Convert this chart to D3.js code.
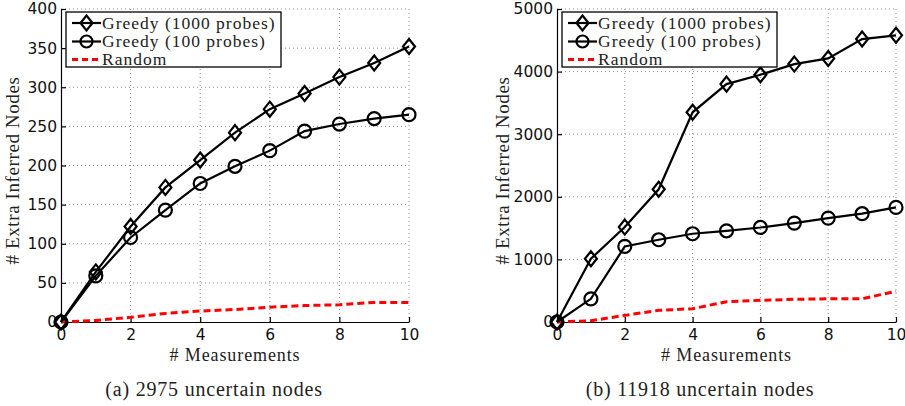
<!DOCTYPE html>
<html lang="en">
<head>
<meta charset="utf-8">
<style>
  body { margin: 0; background: white; }
  svg { background: white; display: block; }
  .tick-label { font-family: 'DejaVu Sans', sans-serif; font-size: 15.5px; fill: #111; }
  .serif { font-family: 'Liberation Serif', serif; fill: #222; }
  .grid line { stroke: #8f8f8f; stroke-width: 1; stroke-dasharray: 1,3; }
  .axis-line { stroke: black; stroke-width: 1.2; }
  .series { fill: none; stroke: black; stroke-width: 2.2; }
  .random { fill: none; stroke: red; stroke-width: 3; stroke-dasharray: 7,4; }
  .marker { fill: none; stroke: black; stroke-width: 2.2; }
</style>
</head>
<body>
<svg width="905" height="406"></svg>
<script src="https://cdn.jsdelivr.net/npm/d3@7"></script>
<script>
// values
const measurements = [0, 1, 2, 3, 4, 5, 6, 7, 8, 9, 10]
const xTicks = [0, 2, 4, 6, 8, 10]

// panel (a): 2975 uncertain nodes
const aGreedy1000 = [0, 64, 122, 172, 207, 242, 272, 292, 313, 331, 352]
const aGreedy100  = [0, 59, 108, 143, 177, 199, 219, 244, 253, 260, 265]
const aRandom     = [0, 2, 6, 11, 14, 16, 19, 21, 22, 25, 25]
const aYTicks = [0, 50, 100, 150, 200, 250, 300, 350, 400]

// panel (b): 11918 uncertain nodes
const bGreedy1000 = [0, 1010, 1516, 2120, 3350, 3800, 3950, 4120, 4210, 4520, 4580]
const bGreedy100  = [0, 370, 1207, 1314, 1410, 1457, 1510, 1580, 1660, 1730, 1830]
const bRandom     = [0, 20, 106, 186, 213, 324, 346, 362, 372, 372, 489]
const bYTicks = [0, 1000, 2000, 3000, 4000, 5000]

const legendLabels = ["Greedy (1000 probes)", "Greedy (100 probes)", "Random"]

const svg = d3.select("svg")

function drawPanel(p) {
  const g = svg.append("g")
  const x = d3.scaleLinear().domain([0, 10]).range([p.left, p.right])
  const y = d3.scaleLinear().domain([0, p.yMax]).range([322, 9])

  // dotted grid, also at the top and right edges (no box)
  const grid = g.append("g").attr("class", "grid")
  grid.selectAll("line.gx").data(xTicks.slice(1)).join("line")
    .attr("class", "gx")
    .attr("x1", d => x(d)).attr("x2", d => x(d)).attr("y1", y(0)).attr("y2", y(p.yMax))
  grid.selectAll("line.gy").data(p.yTicks.slice(1)).join("line")
    .attr("class", "gy")
    .attr("x1", x(0)).attr("x2", x(10)).attr("y1", d => y(d)).attr("y2", d => y(d))

  // axes with inward ticks
  const xAxis = d3.axisBottom(x).tickValues(xTicks).tickSizeInner(-5).tickSizeOuter(0).tickPadding(0)
  const yAxis = d3.axisLeft(y).tickValues(p.yTicks).tickSizeInner(-5).tickSizeOuter(0)
    .tickPadding(4).tickFormat(d3.format("d"))
  const gx = g.append("g").attr("transform", `translate(0,${y(0)})`).call(xAxis)
  const gy = g.append("g").attr("transform", `translate(${x(0)},0)`).call(yAxis)
  ;[gx, gy].forEach(a => {
    a.select(".domain").attr("class", "axis-line")
    a.selectAll(".tick line").attr("stroke-width", 1.2)
    a.selectAll("text").attr("class", "tick-label").attr("fill", null)
  })
  gx.selectAll("text").attr("y", 18).attr("dy", 0)

  const line = d3.line().x((d, i) => x(measurements[i])).y(d => y(d))

  g.append("path").attr("class", "random").attr("d", line(p.random))
  g.append("path").attr("class", "series").attr("d", line(p.g100))
  g.append("path").attr("class", "series").attr("d", line(p.g1000))

  g.selectAll("circle.m").data(p.g100).join("circle")
    .attr("class", "marker").attr("cx", (d, i) => x(measurements[i])).attr("cy", d => y(d)).attr("r", 6.5)
  const diamond = "M0,-7.5L6,0L0,7.5L-6,0Z"
  g.selectAll("path.dm").data(p.g1000).join("path")
    .attr("class", "marker dm").attr("d", diamond)
    .attr("transform", (d, i) => `translate(${x(measurements[i])},${y(d)})`)

  // legend
  const lx = x(0) + 5, ly = 12
  const leg = g.append("g")
  leg.append("rect").attr("x", lx).attr("y", ly).attr("width", 215).attr("height", 55)
    .attr("fill", "white").attr("stroke", "black").attr("stroke-width", 1.3)
  const rows = [ly + 11, ly + 29.5, ly + 47.5]
  legendLabels.forEach((lab, i) => {
    const cy = rows[i]
    leg.append("line").attr("x1", lx + 6).attr("x2", lx + 35).attr("y1", cy).attr("y2", cy)
      .attr("class", i === 2 ? "random" : "series")
      .style("stroke-dasharray", i === 2 ? "6,4" : null)
    if (i === 0) leg.append("path").attr("class", "marker").attr("d", diamond)
      .attr("transform", `translate(${lx + 20.5},${cy})`)
    if (i === 1) leg.append("circle").attr("class", "marker").attr("cx", lx + 20.5).attr("cy", cy).attr("r", 6)
    leg.append("text").attr("class", "serif").attr("x", lx + 36).attr("y", cy + 5.5)
      .style("font-size", "17.5px").style("letter-spacing", "1px").text(lab)
  })

  // axis titles
  g.append("text").attr("class", "serif").style("font-size", "19px").style("letter-spacing", "0.6px")
    .attr("text-anchor", "middle")
    .attr("transform", `translate(${p.yLabelX},${(y(0) + y(p.yMax)) / 2 + 5}) rotate(-90)`)
    .text("# Extra Inferred Nodes")
  g.append("text").attr("class", "serif").style("font-size", "18px").style("letter-spacing", "0.9px")
    .attr("text-anchor", "middle").attr("x", (x(0) + x(10)) / 2).attr("y", 361)
    .text("# Measurements")
  g.append("text").attr("class", "serif").style("font-size", "20px").style("letter-spacing", "0.8px")
    .attr("text-anchor", "middle").attr("x", p.captionX).attr("y", 396)
    .text(p.caption)
}

drawPanel({ left: 61, right: 409, yMax: 400, yTicks: aYTicks,
  g1000: aGreedy1000, g100: aGreedy100, random: aRandom,
  yLabelX: 19, captionX: 214, caption: "(a)  2975 uncertain nodes" })
drawPanel({ left: 557, right: 896, yMax: 5000, yTicks: bYTicks,
  g1000: bGreedy1000, g100: bGreedy100, random: bRandom,
  yLabelX: 509, captionX: 700, caption: "(b)  11918 uncertain nodes" })
</script>
</body>
</html>
